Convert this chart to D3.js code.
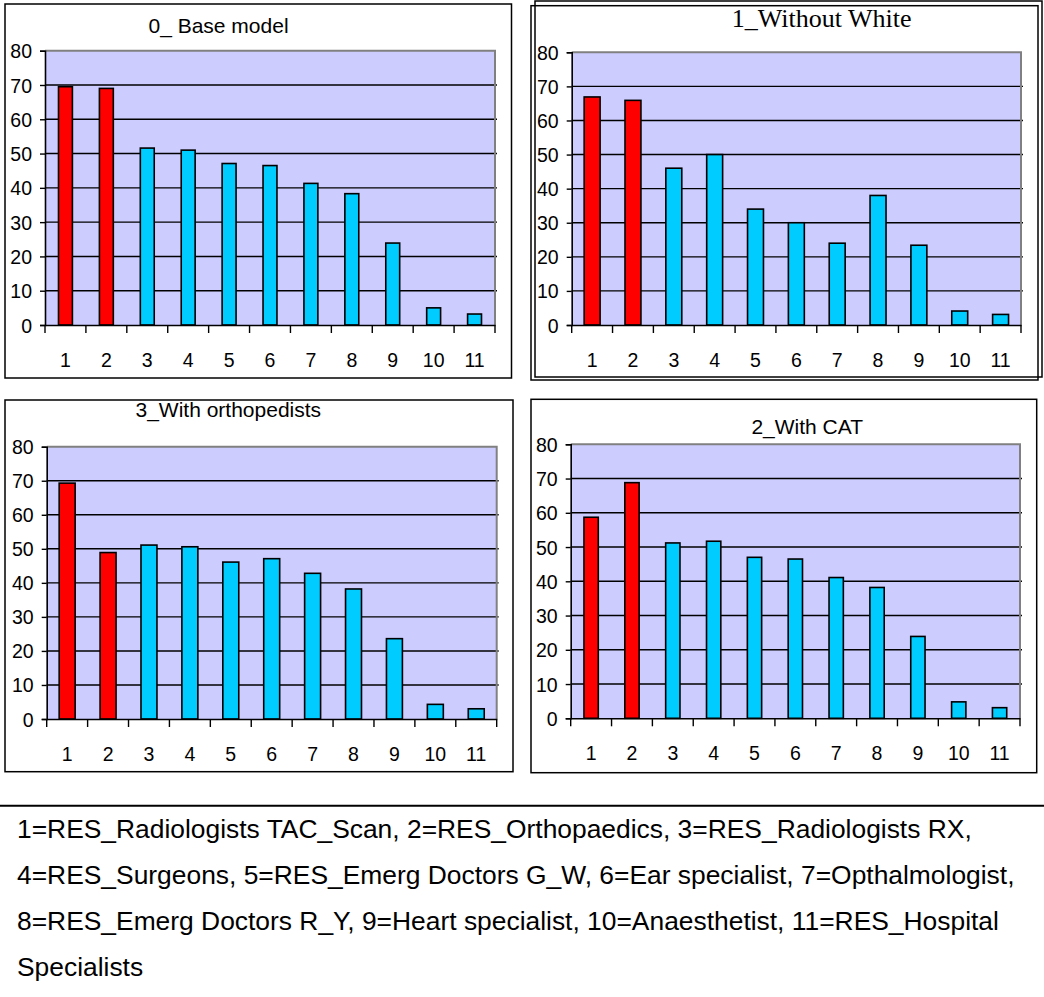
<!DOCTYPE html>
<html>
<head>
<meta charset="utf-8">
<script src="https://cdn.jsdelivr.net/npm/d3@7"></script>
<style>
  html, body { margin: 0; padding: 0; background: #fff; }
  svg { display: block; }
  text { font-family: Arial, "Liberation Sans", sans-serif; fill: #000; }
</style>
</head>
<body>
<svg id="chart" width="1044" height="997"></svg>
<script>
// Category codes on the x axis (see the key underneath the charts)
const categories = ["1", "2", "3", "4", "5", "6", "7", "8", "9", "10", "11"];
// Categories drawn in red
const highlighted = ["1", "2"];
// Value axis ticks
const yTicks = [0, 10, 20, 30, 40, 50, 60, 70, 80];

// Scenario values, one per category
const baseModel        = [69.5, 69.0, 51.6, 51.0, 47.1, 46.5, 41.3, 38.3, 23.9, 5.0, 3.2];
const withoutWhite     = [66.9, 65.9, 46.0, 50.0, 34.0, 30.0, 24.0, 38.0, 23.4, 4.1, 3.1];
const withOrthopedists = [69.3, 48.9, 51.1, 50.6, 46.1, 47.1, 42.8, 38.2, 23.6, 4.3, 3.0];
const withCAT          = [58.7, 68.8, 51.2, 51.7, 47.0, 46.5, 41.1, 38.2, 23.9, 4.8, 3.1];

const titles = ["0_ Base model", "1_Without White", "3_With orthopedists", "2_With CAT"];

const legendLines = [
  "1=RES_Radiologists TAC_Scan, 2=RES_Orthopaedics, 3=RES_Radiologists RX,",
  "4=RES_Surgeons, 5=RES_Emerg Doctors G_W, 6=Ear specialist, 7=Opthalmologist,",
  "8=RES_Emerg Doctors R_Y, 9=Heart specialist, 10=Anaesthetist, 11=RES_Hospital",
  "Specialists"
];

const RED = "#ff0000", CYAN = "#00ccff", PLOT_BG = "#ccccff";
const SANS = "Arial, 'Liberation Sans', sans-serif";
const SERIF = "'Times New Roman', 'Liberation Serif', serif";

// Panel layout: frame box, plot box, title placement
const panels = [
  { values: baseModel, title: titles[0],
    frame: [[5, 4, 506.5, 374]],
    plot: { x: 45, y: 50.7, w: 450, h: 274.3 }, barFrac: 0.34,
    titleX: 218.5, titleY: 32.7, titleFont: SANS, titleSize: 21 },
  { values: withoutWhite, title: titles[1],
    frame: [[531, 5.7, 507, 374.3], [535, 1, 507, 376]],
    plot: { x: 571.7, y: 52.3, w: 449.3, h: 272.7 }, barFrac: 0.39,
    titleX: 821.7, titleY: 26.7, titleFont: SERIF, titleSize: 26 },
  { values: withOrthopedists, title: titles[2],
    frame: [[5, 400, 508, 371.7]],
    plot: { x: 46.7, y: 446.7, w: 450, h: 272.3 }, barFrac: 0.39,
    titleX: 228.3, titleY: 416.7, titleFont: SANS, titleSize: 21 },
  { values: withCAT, title: titles[3],
    frame: [[531, 399.3, 505.7, 373.4]],
    plot: { x: 570.7, y: 444.3, w: 449.3, h: 274 }, barFrac: 0.35,
    titleX: 807.2, titleY: 434.3, titleFont: SANS, titleSize: 21 }
];

const svg = d3.select("#chart");

panels.forEach(p => {
  const g = svg.append("g");

  // outer frame(s)
  p.frame.forEach(f => {
    g.append("rect")
      .attr("x", f[0]).attr("y", f[1]).attr("width", f[2]).attr("height", f[3])
      .attr("fill", "none").attr("stroke", "#000").attr("stroke-width", 1.5);
  });

  // title
  g.append("text")
    .attr("x", p.titleX).attr("y", p.titleY)
    .attr("text-anchor", "middle")
    .style("font-family", p.titleFont)
    .style("font-size", p.titleSize + "px")
    .text(p.title);

  const pl = p.plot;
  const x = d3.scaleBand().domain(categories).range([pl.x, pl.x + pl.w]).padding(0);
  const y = d3.scaleLinear().domain([0, 80]).range([pl.y + pl.h, pl.y]);

  // plot background
  g.append("rect")
    .attr("x", pl.x).attr("y", y(80))
    .attr("width", pl.w).attr("height", y(0) - y(80))
    .attr("fill", PLOT_BG);

  // horizontal gridlines
  g.append("g").selectAll("line")
    .data(yTicks.filter(v => v > 0 && v < 80))
    .join("line")
    .attr("x1", pl.x).attr("x2", pl.x + pl.w + 2)
    .attr("y1", d => y(d)).attr("y2", d => y(d))
    .attr("stroke", "#000").attr("stroke-width", 1.4);

  // grey top and right edges of the plot area
  g.append("path")
    .attr("d", `M${pl.x},${y(80)}H${pl.x + pl.w}V${y(0)}`)
    .attr("fill", "none").attr("stroke", "#808080").attr("stroke-width", 2);

  // bars
  const bw = x.bandwidth() * p.barFrac;
  g.append("g").selectAll("rect")
    .data(categories.map((c, i) => ({ c, v: p.values[i] })))
    .join("rect")
    .attr("x", d => x(d.c) + (x.bandwidth() - bw) / 2)
    .attr("y", d => y(d.v))
    .attr("width", bw)
    .attr("height", d => y(0) - y(d.v))
    .attr("fill", d => highlighted.includes(d.c) ? RED : CYAN)
    .attr("stroke", "#000").attr("stroke-width", 1.6);

  // value axis
  const yAxis = g.append("g")
    .attr("transform", `translate(${pl.x},0)`)
    .call(d3.axisLeft(y).tickValues(yTicks).tickSize(5).tickPadding(8));
  yAxis.select(".domain").attr("stroke", "#000").attr("stroke-width", 1.6);
  yAxis.selectAll(".tick line").attr("stroke", "#000").attr("stroke-width", 1.4);
  yAxis.selectAll(".tick text")
    .attr("dy", "0.36em")
    .style("font-family", SANS)
    .style("font-size", "19.5px").attr("fill", "#000");

  // category axis: labels at band centres, ticks at band boundaries
  const xAxis = g.append("g")
    .attr("transform", `translate(0,${y(0)})`)
    .call(d3.axisBottom(x).tickSize(0).tickPadding(0));
  xAxis.select(".domain").attr("stroke", "#000").attr("stroke-width", 1.6);
  xAxis.selectAll(".tick text")
    .attr("y", 41.7).attr("dy", null)
    .style("font-family", SANS)
    .style("font-size", "19.5px").attr("fill", "#000");

  const bounds = categories.map(c => x(c)).concat([x.range()[1]]);
  xAxis.append("g").selectAll("line")
    .data(bounds)
    .join("line")
    .attr("x1", d => d).attr("x2", d => d)
    .attr("y1", 0).attr("y2", 8)
    .attr("stroke", "#000").attr("stroke-width", 1.4);
});

// separator above the key
svg.append("line")
  .attr("x1", 0).attr("x2", 1044)
  .attr("y1", 805.7).attr("y2", 805.7)
  .attr("stroke", "#000").attr("stroke-width", 2);

// key to the category codes
svg.append("g").selectAll("text")
  .data(legendLines)
  .join("text")
  .attr("x", 17)
  .attr("y", (d, i) => 838.3 + i * 46)
  .style("font-family", SANS)
  .style("font-size", "26.4px")
  .text(d => d);
</script>
</body>
</html>
